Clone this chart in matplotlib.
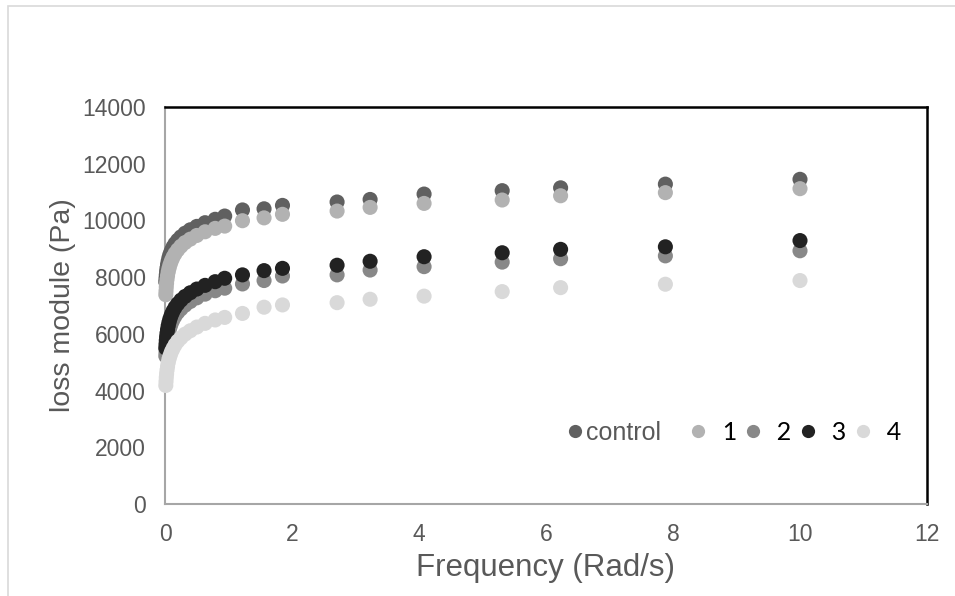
import matplotlib
matplotlib.use("Agg")
import matplotlib.pyplot as plt
from matplotlib.lines import Line2D
from matplotlib.patches import Rectangle

# frequency sweep (rad/s)
freq = [0.0126, 0.0158, 0.02, 0.025, 0.0316, 0.04, 0.05, 0.063, 0.079, 0.1,
        0.126, 0.158, 0.2, 0.251, 0.316, 0.398, 0.501, 0.631, 0.79, 0.94,
        1.22, 1.56, 1.85, 2.71, 3.23, 4.08, 5.31, 6.23, 7.88, 10.0]

control = [7830, 7950, 8070, 8200, 8320, 8440, 8560, 8690, 8810, 8930,
           9060, 9180, 9300, 9420, 9550, 9670, 9790, 9920, 10040, 10155,
           10370, 10410, 10530, 10650, 10740, 10930, 11050, 11150, 11280, 11450]
s1 = [7380, 7510, 7650, 7790, 7920, 8050, 8180, 8310, 8440, 8570,
      8700, 8830, 8960, 9090, 9220, 9340, 9470, 9600, 9720, 9800,
      9990, 10090, 10215, 10330, 10460, 10600, 10720, 10870, 10980, 11120]
s2 = [5220, 5350, 5480, 5600, 5730, 5860, 5990, 6120, 6240, 6370,
      6500, 6630, 6760, 6880, 7010, 7140, 7270, 7400, 7520, 7610,
      7760, 7880, 8040, 8080, 8250, 8370, 8530, 8650, 8750, 8930]
s3 = [5500, 5630, 5760, 5890, 6020, 6150, 6280, 6410, 6540, 6670,
      6800, 6930, 7060, 7190, 7320, 7450, 7580, 7710, 7840, 7960,
      8080, 8230, 8310, 8420, 8560, 8720, 8860, 8980, 9070, 9290]
s4 = [4180, 4320, 4460, 4590, 4720, 4850, 4980, 5110, 5230, 5360,
      5480, 5610, 5740, 5860, 5990, 6110, 6240, 6370, 6490, 6580,
      6720, 6940, 7020, 7100, 7220, 7330, 7490, 7630, 7750, 7880]

series = [control, s1, s2, s3, s4]
names = ["control", "1", "2", "3", "4"]
colors = ["#606060", "#b2b2b2", "#888888", "#222222", "#d9d9d9"]

xticks = [0, 2, 4, 6, 8, 10, 12]
yticks = [0, 2000, 4000, 6000, 8000, 10000, 12000, 14000]

plt.rcParams["font.family"] = ["Liberation Sans", "DejaVu Sans"]

fig = plt.figure(figsize=(9.55, 5.96), dpi=100)
fig.patch.set_facecolor("white")
# light outer frame of the chart area
fig.patches.append(Rectangle((8 / 955, -0.05), 1.2, 1.05 - 6 / 596, transform=fig.transFigure,
                             fill=False, edgecolor="#d9d9d9", linewidth=1.2))

ax = fig.add_axes([165 / 955, 92 / 596, 762 / 955, 397 / 596])
for vals, color in zip(series, colors):
    ax.scatter(freq, vals, s=118, color=color, edgecolors="none", zorder=3, clip_on=False)

ax.set_xlim(0, 12)
ax.set_ylim(0, 14000)
ax.set_xticks(xticks)
ax.set_yticks(yticks)
ax.tick_params(length=0, labelsize=16.5, labelcolor="#595959", pad=14)
ax.set_xlabel("Frequency (Rad/s)", fontsize=22.5, color="#595959", labelpad=5)
ax.set_ylabel("loss module (Pa)", fontsize=20.5, color="#595959", labelpad=4)

for side in ("left", "bottom"):
    ax.spines[side].set_color("#a6a6a6")
    ax.spines[side].set_linewidth(1.5)
for side in ("top", "right"):
    ax.spines[side].set_color("black")
    ax.spines[side].set_linewidth(1.8)

handles = [Line2D([], [], linestyle="none", marker="o", markersize=9.5, markerfacecolor=c,
                  markeredgecolor="none") for c in colors]
labels = [names[0] + "   "] + ["  " + n for n in names[1:]]
leg = ax.legend(handles, labels, ncol=5, frameon=False, loc="center left",
                bbox_to_anchor=(0.510, 0.18), handlelength=0.7, handletextpad=0.1,
                columnspacing=0.3, borderpad=0, fontsize=18)
for i, t in enumerate(leg.get_texts()):
    if i == 0:
        t.set_color("#595959")
    else:
        t.set_color("black")
        t.set_fontfamily(["Lato", "DejaVu Sans"])

fig.savefig("out.png", dpi=100)
